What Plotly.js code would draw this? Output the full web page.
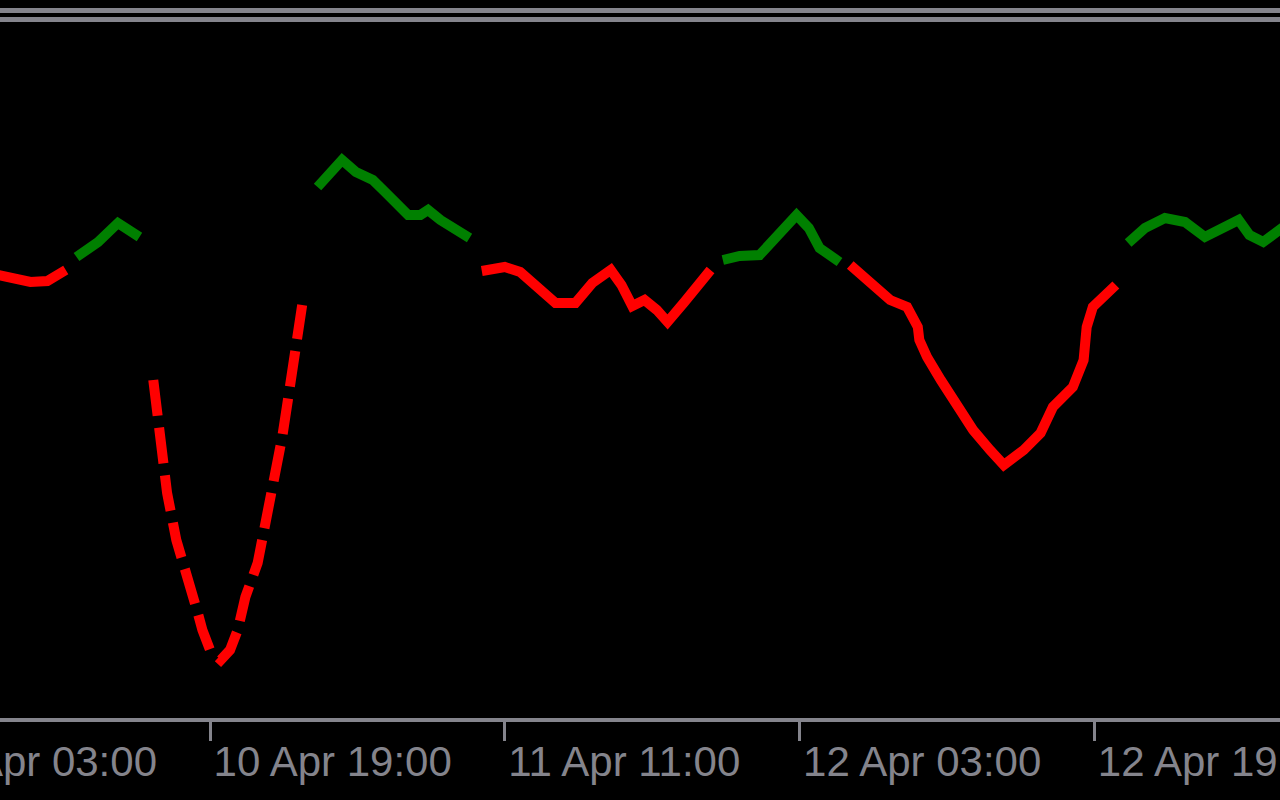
<!DOCTYPE html>
<html>
<head>
<meta charset="utf-8">
<script src="https://cdn.plot.ly/plotly-3.0.1.min.js"></script>
<style>
  html, body { margin: 0; padding: 0; background: #000; overflow: hidden; width: 1280px; height: 800px; }
  #chart { position: absolute; left: -120px; top: 0; width: 1600px; height: 800px; }
</style>
</head>
<body>
<div id="chart"></div>
<script>
// ---- data ----
const redTimes = [
  '2023-04-10 07:30','2023-04-10 08:25','2023-04-10 09:15','2023-04-10 10:10','2023-04-10 10:45','2023-04-10 11:10', null,
  '2023-04-11 09:45','2023-04-11 11:00','2023-04-11 11:50','2023-04-11 12:55','2023-04-11 13:45','2023-04-11 14:50',
  '2023-04-11 15:45','2023-04-11 16:45','2023-04-11 17:20','2023-04-11 17:55','2023-04-11 18:35','2023-04-11 19:15',
  '2023-04-11 19:50','2023-04-11 20:45','2023-04-11 21:30','2023-04-11 22:10', null,
  '2023-04-12 05:45','2023-04-12 07:00','2023-04-12 07:55','2023-04-12 08:50','2023-04-12 09:25','2023-04-12 09:30',
  '2023-04-12 09:55','2023-04-12 10:40','2023-04-12 11:35','2023-04-12 12:25','2023-04-12 13:20','2023-04-12 14:05',
  '2023-04-12 15:10','2023-04-12 16:05','2023-04-12 16:45','2023-04-12 17:50','2023-04-12 18:25','2023-04-12 18:35',
  '2023-04-12 18:55','2023-04-12 19:40','2023-04-12 20:10'
];
const redValues = [
  443, 438, 436, 437, 442, 448, null,
  447, 451, 446, 428, 415, 415, 435, 448, 433, 412, 418, 408, 396, 416, 435, 448, null,
  453, 431, 418, 411, 391, 378, 361, 338, 311, 288, 268, 253, 268, 285, 311, 331, 358, 391, 411, 425, 433
];
const dipTimes = [
  '2023-04-10 15:55','2023-04-10 16:25','2023-04-10 16:40','2023-04-10 17:10','2023-04-10 17:45','2023-04-10 18:20',
  '2023-04-10 18:35','2023-04-10 19:00','2023-04-10 19:35','2023-04-10 20:05','2023-04-10 20:30','2023-04-10 20:55',
  '2023-04-10 21:35','2023-04-10 22:00','2023-04-10 22:25','2023-04-10 22:55','2023-04-10 23:10','2023-04-10 23:30',
  '2023-04-11 00:00'
];
const dipValues = [338, 265, 225, 178, 145, 105, 88, 68, 58, 68, 88, 121, 155, 191, 238, 281, 311, 355, 413];
const greenTimes = [
  '2023-04-10 11:45','2023-04-10 12:55','2023-04-10 14:00','2023-04-10 14:35','2023-04-10 15:10', null,
  '2023-04-11 00:50','2023-04-11 02:10','2023-04-11 02:55','2023-04-11 03:50','2023-04-11 04:30','2023-04-11 05:45',
  '2023-04-11 06:25','2023-04-11 06:50','2023-04-11 07:30','2023-04-11 08:20','2023-04-11 09:05', null,
  '2023-04-11 22:50','2023-04-11 23:45','2023-04-12 00:50','2023-04-12 01:40','2023-04-12 02:50','2023-04-12 03:30',
  '2023-04-12 04:05','2023-04-12 05:10', null,
  '2023-04-12 20:50','2023-04-12 21:45','2023-04-12 22:50','2023-04-12 23:55','2023-04-13 01:00','2023-04-13 01:50',
  '2023-04-13 02:50','2023-04-13 03:25','2023-04-13 04:10','2023-04-13 05:20'
];
const greenValues = [
  461, 476, 495, 488, 481, null,
  531, 558, 546, 538, 526, 503, 503, 508, 498, 490, 480, null,
  458, 462, 463, 480, 503, 490, 470, 456, null,
  475, 490, 500, 496, 481, 490, 498, 483, 476, 492
];
const tickTimes = ['2023-04-10 03:00','2023-04-10 19:00','2023-04-11 11:00','2023-04-12 03:00','2023-04-12 19:00','2023-04-13 11:00'];

// ---- styles ----
const GREY = '#84848c';
const traces = [
  { x: redTimes, y: redValues, type: 'scatter', mode: 'lines', line: { color: '#ff0000', width: 10 }, connectgaps: false, hoverinfo: 'skip' },
  { x: dipTimes, y: dipValues, type: 'scatter', mode: 'lines', line: { color: '#ff0000', width: 10, dash: '36px,12px' }, hoverinfo: 'skip' },
  { x: greenTimes, y: greenValues, type: 'scatter', mode: 'lines', line: { color: '#008000', width: 10 }, connectgaps: false, hoverinfo: 'skip' }
];
const layout = {
  width: 1600, height: 800,
  margin: { l: 0, r: 0, t: 22, b: 82 },
  paper_bgcolor: '#000000', plot_bgcolor: '#000000',
  showlegend: false,
  xaxis: {
    type: 'date',
    range: ['2023-04-10 01:05', '2023-04-13 15:56'],
    tickmode: 'array', tickvals: tickTimes, tickformat: '%d %b %H:%M',
    ticklabelposition: 'outside right',
    ticklabelstandoff: 4,
    ticks: 'outside', ticklen: 19, tickwidth: 3, tickcolor: GREY,
    showline: true, linecolor: GREY, linewidth: 4,
    showgrid: false, zeroline: false,
    tickfont: { family: 'Liberation Sans, Arial, sans-serif', size: 42, color: GREY }
  },
  yaxis: { range: [0, 696], visible: false, fixedrange: true },
  shapes: [
    { type: 'line', xref: 'paper', yref: 'paper', x0: 0, x1: 1, y0: 1.0165, y1: 1.0165, line: { color: GREY, width: 5 } },
    { type: 'line', xref: 'paper', yref: 'paper', x0: 0, x1: 1, y0: 1.0036, y1: 1.0036, line: { color: GREY, width: 5 } }
  ]
};
Plotly.newPlot('chart', traces, layout, { staticPlot: true, displayModeBar: false });
</script>
</body>
</html>
